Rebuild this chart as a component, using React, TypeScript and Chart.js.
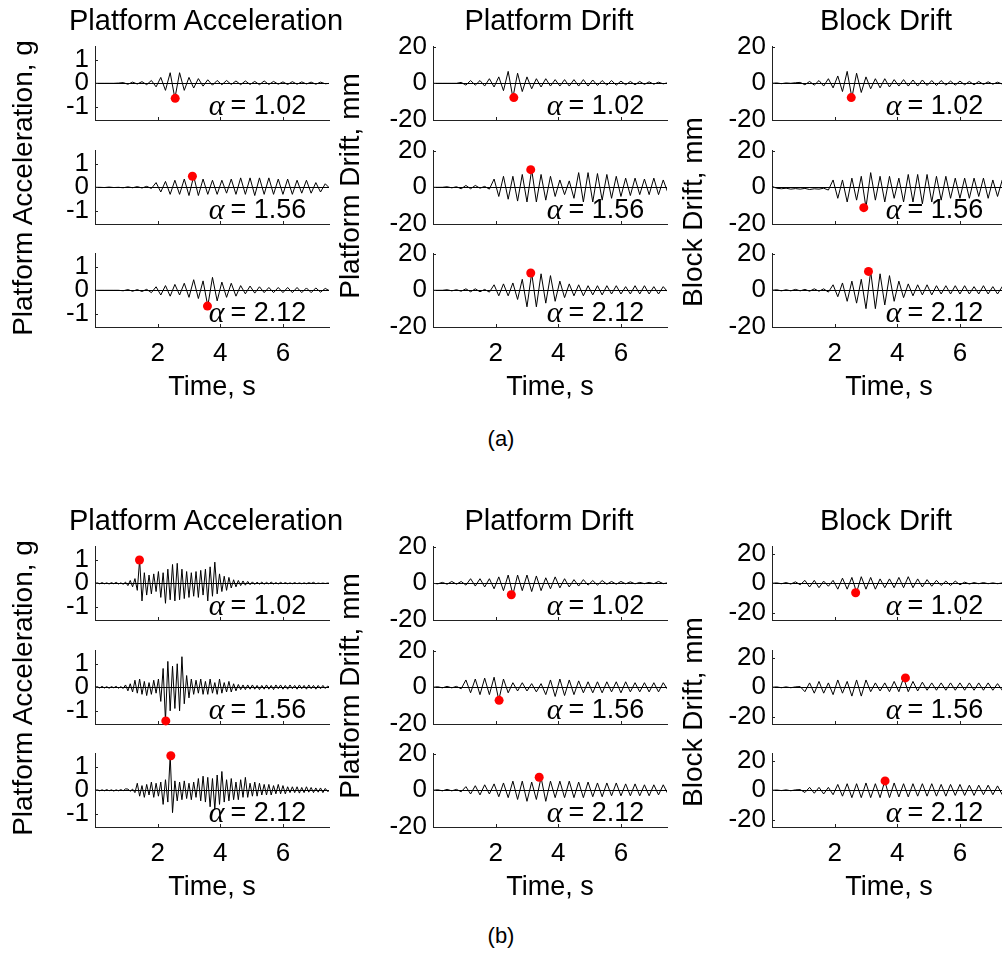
import React, { useEffect, useRef } from 'react';
import { Chart, registerables } from 'chart.js';
Chart.register(...registerables);

// ---------- time bases (s) ----------
const tCoarse = [
  0, 0.15, 0.3, 0.45, 0.6, 0.75, 0.9, 1.05, 1.2, 1.35,
  1.5, 1.65, 1.8, 1.95, 2.1, 2.25, 2.4, 2.55, 2.7, 2.85,
  3, 3.15, 3.3, 3.45, 3.6, 3.75, 3.9, 4.05, 4.2, 4.35,
  4.5, 4.65, 4.8, 4.95, 5.1, 5.25, 5.4, 5.55, 5.7, 5.85,
  6, 6.15, 6.3, 6.45, 6.6, 6.75, 6.9, 7.05, 7.2, 7.35,
  7.5,
];
const tFine = [
  0, 0.075, 0.15, 0.225, 0.3, 0.375, 0.45, 0.525, 0.6, 0.675,
  0.75, 0.825, 0.9, 0.975, 1.05, 1.125, 1.2, 1.275, 1.35, 1.425,
  1.5, 1.575, 1.65, 1.725, 1.8, 1.875, 1.95, 2.025, 2.1, 2.175,
  2.25, 2.325, 2.4, 2.475, 2.55, 2.625, 2.7, 2.775, 2.85, 2.925,
  3, 3.075, 3.15, 3.225, 3.3, 3.375, 3.45, 3.525, 3.6, 3.675,
  3.75, 3.825, 3.9, 3.975, 4.05, 4.125, 4.2, 4.275, 4.35, 4.425,
  4.5, 4.575, 4.65, 4.725, 4.8, 4.875, 4.95, 5.025, 5.1, 5.175,
  5.25, 5.325, 5.4, 5.475, 5.55, 5.625, 5.7, 5.775, 5.85, 5.925,
  6, 6.075, 6.15, 6.225, 6.3, 6.375, 6.45, 6.525, 6.6, 6.675,
  6.75, 6.825, 6.9, 6.975, 7.05, 7.125, 7.2, 7.275, 7.35, 7.425,
  7.5,
];

// ---------- axes ----------
const xMax = 7.47;
const xTicks = [2, 4, 6];
const accLim = 1.56;
const accTicks = [-1, 0, 1];
const driftLim = 20;
const driftTicks = [-20, 0, 20];
const blockLimB = 25;
const alphaLabels = ['1.02', '1.56', '2.12'];

// ---------- (a) Platform acceleration, g ----------
const aAcc1 = [
  0, 0, 0, 0, 0, 0.01, 0.03, -0.04, 0.05, -0.03,
  0.07, -0.06, 0.12, -0.15, 0.25, -0.3, 0.45, -0.64, 0.45, -0.3,
  0.25, -0.2, 0.2, -0.12, 0.15, -0.08, 0.12, -0.06, 0.12, -0.05,
  0.1, -0.06, 0.1, -0.05, 0.08, -0.06, 0.1, -0.05, 0.08, -0.04,
  0.06, -0.05, 0.07, -0.04, 0.06, -0.03, 0.05, -0.04, 0.05, -0.02,
  0,
];
const aAcc2 = [
  0, 0, -0.01, 0.01, -0.01, 0, -0.02, 0.02, -0.02, 0.03,
  -0.03, 0.04, -0.05, 0.2, -0.2, 0.25, -0.3, 0.3, -0.3, 0.35,
  -0.35, 0.47, -0.35, 0.35, -0.3, 0.3, -0.3, 0.3, -0.25, 0.35,
  -0.3, 0.4, -0.3, 0.4, -0.35, 0.4, -0.3, 0.4, -0.3, 0.35,
  -0.3, 0.35, -0.3, 0.3, -0.25, 0.3, -0.25, 0.2, -0.2, 0.15,
  -0.05,
];
const aAcc3 = [
  0, 0, 0, 0, 0, 0, -0.02, 0.03, -0.04, 0.03,
  -0.05, 0.04, -0.1, 0.15, -0.2, 0.2, -0.25, 0.25, -0.2, 0.3,
  -0.3, 0.45, -0.35, 0.4, -0.67, 0.55, -0.45, 0.35, -0.3, 0.3,
  -0.25, 0.2, -0.15, 0.18, -0.12, 0.15, -0.1, 0.12, -0.1, 0.12,
  -0.1, 0.12, -0.1, 0.12, -0.1, 0.1, -0.1, 0.1, -0.08, 0.08,
  -0.03,
];
// ---------- (a) Platform drift, mm ----------
const aPD1 = [
  0, 0, 0, 0, 0, 0, 0.5, -1, 1.5, -1,
  1.5, -1.5, 2.5, -2, 3.5, -4, 6.5, -7.8, 5.5, -4.5,
  3.5, -3, 2.5, -2, 2.5, -1.5, 2, -1.5, 2, -1.5,
  2, -1.5, 2, -1.5, 1.8, -1.2, 1.5, -1, 1.5, -1,
  1.2, -0.8, 1, -0.8, 1, -0.6, 0.8, -0.5, 0.6, -0.3,
  0.3,
];
const aPD2 = [
  0, 0, 0, 0.3, -0.3, 0.3, -0.8, 1, -0.8, 1,
  -0.5, 0.5, -1, 4.5, -5, 6, -6.5, 6, -7.5, 7,
  -8, 9.6, -8, 7, -7, 6, -5, 4, -4, 3.5,
  -6, 8, -8, 8, -8, 7.5, -7, 7, -6, 6,
  -5, 5, -4.5, 5, -4, 4.5, -4, 5, -4, 4,
  -3,
];
const aPD3 = [
  0, 0, 0, 0.3, -0.3, 0.3, -0.5, 0.8, -0.8, 0.8,
  -0.8, 0.5, -1, 3, -3, 3.5, -3, 4, -5, 6,
  -9, 9.4, -9, 9, -7, 8, -6, 5, -4, 3.5,
  -3, 3, -3, 2.5, -2.5, 2.5, -2.5, 2.5, -2, 2.5,
  -2, 2, -2, 2.5, -2, 2.5, -2, 2, -2, 2,
  -1,
];
// ---------- (a) Block drift, mm ----------
const aBD1 = [
  0, 0.2, -0.2, 0.2, 0, 0.3, 0.5, -0.8, 1, -1,
  1.5, -1.5, 2.5, -2.5, 4, -4.5, 6.5, -7.8, 5.5, -5,
  3.5, -3, 2.5, -2.5, 2.5, -2, 2, -1.5, 2, -1.5,
  1.8, -1.5, 1.8, -1.2, 1.5, -1.2, 1.5, -1, 1.2, -1,
  1.2, -0.8, 1, -0.8, 1, -0.6, 0.8, -0.5, 0.6, -0.4,
  0.3,
];
const aBD2 = [
  0.5, -0.5, -0.8, -0.5, -1, -0.7, -1, -0.6, -1.2, -0.8,
  -1, -0.5, -1.5, 4, -6, 4, -8, 5, -7, 6,
  -11, 8, -7, 6, -8, 6, -6, 5, -8, 7,
  -8, 7, -9, 7, -8, 6, -7, 6, -6, 5,
  -6, 5, -6, 5, -5, 5, -6, 4, -5, 4,
  -3,
];
const aBD3 = [
  0, 0.3, -0.3, 0.3, -0.3, 0.5, -0.3, 0.5, -0.5, 0.8,
  -0.5, 0.8, -1, 3, -3.5, 4, -6, 5, -7, 6,
  -10, 10.3, -10, 9, -8, 8, -6, 5, -4, 3.5,
  -3, 3, -2.5, 3, -2.5, 2.5, -2, 2.5, -2, 2.5,
  -2, 2.5, -2, 2, -2, 2.5, -2, 2, -2, 2,
  -1,
];
// ---------- (b) Platform acceleration, g ----------
const bAcc1 = [
  0, 0.02, -0.02, 0.03, -0.02, 0.02, -0.03, 0.03, -0.02, 0.04,
  -0.03, 0.02, -0.04, 0.05, -0.1, 0.12, -0.15, 0.2, -0.3, 1.0,
  -0.75, 0.45, -0.5, 0.35, -0.45, 0.4, -0.35, 0.5, -0.6, 0.45,
  -0.85, 0.6, -0.7, 0.8, -0.75, 0.85, -0.7, 0.6, -0.65, 0.5,
  -0.6, 0.45, -0.55, 0.5, -0.6, 0.55, -0.5, 0.6, -0.75, 0.7,
  -0.55, 0.9, -0.45, 0.4, -0.35, 0.3, -0.3, 0.25, -0.2, 0.15,
  -0.15, 0.12, -0.1, 0.1, -0.08, 0.08, -0.06, 0.06, -0.05, 0.05,
  -0.04, 0.05, -0.04, 0.04, -0.03, 0.05, -0.03, 0.03, -0.03, 0.04,
  -0.02, 0.03, -0.02, 0.02, -0.02, 0.03, -0.02, 0.02, -0.02, 0.02,
  -0.02, 0.03, -0.01, 0.04, -0.02, 0.01, -0.01, 0.01, -0.01, 0.01,
  0,
];
const bAcc2 = [
  0, 0.03, -0.03, 0.04, -0.03, 0.03, -0.04, 0.03, -0.02, 0.04,
  -0.04, 0.03, -0.05, 0.1, -0.15, 0.15, -0.2, 0.3, -0.25, 0.35,
  -0.3, 0.25, -0.35, 0.2, -0.3, 0.3, -0.25, 0.35, -0.6, 0.8,
  -1.43, 1.1, -1.0, 0.9, -0.9, 1.0, -1.0, 1.3, -0.7, 0.5,
  -0.45, 0.35, -0.3, 0.3, -0.25, 0.35, -0.3, 0.25, -0.3, 0.35,
  -0.25, 0.2, -0.3, 0.35, -0.25, 0.2, -0.2, 0.25, -0.2, 0.15,
  -0.15, 0.12, -0.1, 0.1, -0.1, 0.1, -0.08, 0.1, -0.08, 0.08,
  -0.1, 0.08, -0.08, 0.1, -0.08, 0.08, -0.1, 0.1, -0.06, 0.1,
  -0.08, 0.08, -0.08, 0.1, -0.06, 0.08, -0.08, 0.1, -0.06, 0.08,
  -0.08, 0.1, -0.06, 0.08, -0.08, 0.08, -0.06, 0.08, -0.05, 0.05,
  0,
];
const bAcc3 = [
  0, 0.02, -0.02, 0.02, -0.02, 0.03, -0.02, 0.02, -0.03, 0.02,
  -0.02, 0.03, -0.02, 0.06, 0.05, -0.04, 0.05, -0.1, 0.3, -0.25,
  0.2, -0.3, 0.25, -0.2, 0.35, -0.3, 0.3, -0.25, 0.35, -0.6,
  0.45, -0.5, 1.47, -0.95, 0.4, -0.45, 0.35, -0.4, 0.4, -0.35,
  0.3, -0.4, 0.35, -0.3, 0.5, -0.45, 0.6, -0.5, 0.55, -0.7,
  0.5, -0.8, 0.65, -0.6, 0.8, -0.5, 0.45, -0.45, 0.5, -0.4,
  0.35, -0.4, 0.45, -0.3, 0.55, -0.3, 0.3, -0.25, 0.35, -0.25,
  0.3, -0.2, 0.25, -0.2, 0.25, -0.2, 0.2, -0.15, 0.25, -0.15,
  0.2, -0.15, 0.15, -0.1, 0.15, -0.1, 0.15, -0.12, 0.12, -0.1,
  0.15, -0.08, 0.12, -0.1, 0.1, -0.08, 0.1, -0.1, 0.08, -0.05,
  0,
];
// ---------- (b) Platform drift, mm ----------
const bPD1 = [
  0, -0.3, 0.5, -0.5, 1, -0.5, 1, -1, 2.5, -1.5,
  2.5, -2, 2.5, -3, 3.5, -4, 4.5, -6.2, 4.5, -4,
  4.5, -4.5, 4, -4, 3, -3, 3.5, -2.5, 2.5, -2,
  2, -1.5, 2, -1, 1.5, -1, 1.5, -0.5, 1, -0.5,
  1, -0.3, 0.8, -0.3, 0.5, -0.2, 0.5, -0.2, 1, -0.2,
  0.3,
];
const bPD2 = [
  0, 0.3, -0.3, 0.5, -0.3, 0.5, -0.8, 4, -3, 4.5,
  -4, 5, -4, 5.5, -7, 4.5, -3, 2.5, -2, 2.5,
  -2, 2, -2.5, 2, -4, 4, -5, 4.5, -4.5, 4,
  -4, 3.5, -3, 3, -3, 3, -3, 3, -2.5, 3,
  -3, 3, -2.5, 2.5, -2.5, 2.5, -2.5, 2.5, -2.5, 2.5,
  -1.5,
];
const bPD3 = [
  0, 0.3, -0.3, 0.5, -0.3, 0.5, -0.8, 2, -2, 2.5,
  -2.5, 3, -2, 3.5, -3.5, 4, -4, 5, -5, 5,
  -6, 4.5, -5, 7, -6, 5, -4, 5, -4, 5,
  -4, 4.5, -4, 4.5, -3.5, 4, -3.5, 4, -3, 4,
  -3, 3.5, -3, 3.5, -3, 3, -3, 3, -2.5, 3,
  -2,
];
// ---------- (b) Block drift, mm ----------
const bBD1 = [
  0, 0.3, -0.3, 0.5, -0.5, 1, -1, 2, -2.5, 2,
  -3, 1.5, -2, 2, -4, 3.5, -4, 4, -6.2, 4.5,
  -4, 4, -4, 3, -3, 3, -3, 4, -3, 4.5,
  -3, 3, -2.5, 2.5, -2, 2, -1.5, 1.5, -1.5, 1.5,
  -1, 0.8, -0.5, 0.5, -0.3, 0.5, -0.3, 0.3, -0.3, 0.3,
  0,
];
const bBD2 = [
  0, 0.3, -0.3, 0.3, -0.3, 0.3, 0.5, -3, 3, -4,
  4, -4, 3, -5, 5, -4, 4, -6, 5, -6,
  5, -3, 3, -2.5, 3, -3, 4, -3, 6.4, -3,
  4, -2.5, 3.5, -2, 3, -2, 3, -2, 3, -2,
  3, -2, 3, -2, 3, -2, 3, -2, 2.5, -2,
  2,
];
const bBD3 = [
  0, 0.2, -0.2, 0.3, -0.3, 0.3, 0.5, -1.5, 2, -2,
  2, -2.5, 2, -3, 4, -4, 4.5, -5, 4.5, -5,
  5, -5, 4.5, -5, 6.4, -5, 5, -4.5, 4.5, -4.5,
  4.5, -4, 4.5, -4, 4.5, -4, 4, -4, 4, -3.5,
  4, -3.5, 3.5, -3.5, 3.5, -3, 3.5, -3, 3, -3,
  2,
];

// ---------- peak markers (red dots) ----------
const aAccPeakT = [2.56, 3.11, 3.59];
const aAccPeakV = [-0.64, 0.47, -0.67];
const aPDPeakT = [2.58, 3.12, 3.12];
const aPDPeakV = [-7.8, 9.6, 9.4];
const aBDPeakT = [2.53, 2.93, 3.08];
const aBDPeakV = [-7.8, -11.1, 10.3];
const bAccPeakT = [1.42, 2.26, 2.42];
const bAccPeakV = [0.99, -1.43, 1.47];
const bPDPeakT = [2.5, 2.11, 3.39];
const bPDPeakV = [-6.25, -7.1, 7.1];
const bBDPeakT = [2.67, 4.26, 3.61];
const bBDPeakV = [-6.4, 6.4, 6.4];

// ---------- styling / layout ----------
const SANS = "'Liberation Sans', Arial, Helvetica, sans-serif";
const SERIF = "'Liberation Serif', 'Times New Roman', serif";
const COL_LEFT = [95, 433, 772];
const PLOT_W = 234;
const ROW_TOP = [43, 147, 250];
const PLOT_H = 77;
const GROUP_DY = 500;
const AXIS_W = 70;
const PAD_TOP = 18;
const PAD_RIGHT = 10;
const X_AXIS_H = 45;
const ALPHA_X = 3.63;
const ALPHA_YFRAC = 0.64;
const TICK_SIZE = 26;

type Spec = {
  key: string;
  left: number;
  top: number;
  time: number[];
  values: number[];
  lim: number;
  yTicks: number[];
  peakT: number;
  peakV: number;
  alpha: string;
  showX: boolean;
};

function buildSpecs(): Spec[] {
  const groups = [
    {
      dy: 0,
      cols: [
        { time: tCoarse, series: [aAcc1, aAcc2, aAcc3], lim: accLim, ticks: accTicks, pT: aAccPeakT, pV: aAccPeakV },
        { time: tCoarse, series: [aPD1, aPD2, aPD3], lim: driftLim, ticks: driftTicks, pT: aPDPeakT, pV: aPDPeakV },
        { time: tCoarse, series: [aBD1, aBD2, aBD3], lim: driftLim, ticks: driftTicks, pT: aBDPeakT, pV: aBDPeakV },
      ],
    },
    {
      dy: GROUP_DY,
      cols: [
        { time: tFine, series: [bAcc1, bAcc2, bAcc3], lim: accLim, ticks: accTicks, pT: bAccPeakT, pV: bAccPeakV },
        { time: tCoarse, series: [bPD1, bPD2, bPD3], lim: driftLim, ticks: driftTicks, pT: bPDPeakT, pV: bPDPeakV },
        { time: tCoarse, series: [bBD1, bBD2, bBD3], lim: blockLimB, ticks: driftTicks, pT: bBDPeakT, pV: bBDPeakV },
      ],
    },
  ];
  const out: Spec[] = [];
  groups.forEach((g, gi) => {
    g.cols.forEach((c, ci) => {
      c.series.forEach((s, ri) => {
        out.push({
          key: `${gi}-${ci}-${ri}`,
          left: COL_LEFT[ci],
          top: ROW_TOP[ri] + g.dy,
          time: c.time,
          values: s,
          lim: c.lim,
          yTicks: c.ticks,
          peakT: c.pT[ri],
          peakV: c.pV[ri],
          alpha: alphaLabels[ri],
          showX: ri === 2,
        });
      });
    });
  });
  return out;
}

function makeDecor(spec: Spec) {
  return {
    id: 'decor',
    beforeDatasetsDraw(chart: any) {
      const { ctx, chartArea } = chart;
      const y = chart.scales.y;
      const y0 = Math.round(y.getPixelForValue(0)) + 0.5;
      ctx.save();
      ctx.strokeStyle = '#000';
      ctx.lineWidth = 1;
      ctx.beginPath();
      ctx.moveTo(chartArea.left, y0);
      ctx.lineTo(chartArea.right, y0);
      ctx.stroke();
      ctx.restore();
    },
    afterDatasetsDraw(chart: any) {
      const { ctx, chartArea } = chart;
      const x = chart.scales.x;
      const y = chart.scales.y;
      ctx.save();
      ctx.strokeStyle = '#222';
      ctx.lineWidth = 1;
      ctx.beginPath();
      for (const v of xTicks) {
        const px = Math.round(x.getPixelForValue(v)) + 0.5;
        ctx.moveTo(px, chartArea.bottom);
        ctx.lineTo(px, chartArea.bottom - 3);
      }
      for (const v of spec.yTicks) {
        const py = Math.round(y.getPixelForValue(v)) + 0.5;
        ctx.moveTo(chartArea.left, py);
        ctx.lineTo(chartArea.left + 3, py);
      }
      ctx.stroke();
      const lx = x.getPixelForValue(ALPHA_X);
      const ly = y.getPixelForValue(-ALPHA_YFRAC * spec.lim);
      ctx.fillStyle = '#000';
      ctx.textBaseline = 'middle';
      ctx.textAlign = 'left';
      ctx.font = `italic 30px ${SERIF}`;
      ctx.fillText('\u03b1', lx, ly);
      const wa = ctx.measureText('\u03b1').width;
      ctx.font = `27px ${SANS}`;
      ctx.fillText('= ' + spec.alpha, lx + wa + 6, ly);
      ctx.restore();
    },
  };
}

function Subplot({ spec }: { spec: Spec }) {
  const ref = useRef<HTMLCanvasElement>(null);
  const w = AXIS_W + PLOT_W + PAD_RIGHT;
  const h = PAD_TOP + PLOT_H + X_AXIS_H;
  useEffect(() => {
    if (!ref.current) return;
    const tickFont = { family: SANS, size: TICK_SIZE };
    const chart = new Chart(ref.current, {
      type: 'line',
      data: {
        labels: spec.time,
        datasets: [
          {
            type: 'scatter',
            data: [{ x: spec.peakT, y: spec.peakV }],
            pointRadius: 4.5,
            pointBackgroundColor: '#ff0000',
            pointBorderWidth: 0,
            backgroundColor: '#ff0000',
            borderColor: '#ff0000',
            clip: false,
            order: 0,
          } as any,
          {
            type: 'line',
            data: spec.values,
            borderColor: '#000',
            borderWidth: 1,
            pointRadius: 0,
            tension: 0,
            fill: false,
            order: 1,
          } as any,
        ],
      },
      options: {
        animation: false,
        responsive: false,
        maintainAspectRatio: false,
        devicePixelRatio: 1,
        events: [],
        layout: { padding: { top: PAD_TOP, right: PAD_RIGHT, left: 0, bottom: 0 } },
        plugins: { legend: { display: false }, tooltip: { enabled: false } },
        scales: {
          x: {
            type: 'linear',
            min: 0,
            max: xMax,
            afterFit: (s: any) => { s.height = X_AXIS_H; },
            afterBuildTicks: (s: any) => { s.ticks = xTicks.map((v) => ({ value: v })); },
            grid: { display: false, drawTicks: false },
            border: { display: true, color: '#222', width: 1 },
            ticks: { display: spec.showX, color: '#000', font: tickFont, padding: 11, maxRotation: 0, autoSkip: false },
          },
          y: {
            type: 'linear',
            min: -spec.lim,
            max: spec.lim,
            afterFit: (s: any) => { s.width = AXIS_W; },
            afterBuildTicks: (s: any) => { s.ticks = spec.yTicks.map((v) => ({ value: v })); },
            grid: { display: false, drawTicks: false },
            border: { display: true, color: '#222', width: 1 },
            ticks: { color: '#000', font: tickFont, padding: 6, autoSkip: false },
          },
        },
      } as any,
      plugins: [makeDecor(spec)],
    });
    return () => chart.destroy();
  }, []);
  return (
    <canvas
      ref={ref}
      width={w}
      height={h}
      style={{ position: 'absolute', left: spec.left - AXIS_W, top: spec.top - PAD_TOP, width: w, height: h }}
    />
  );
}

function Text({ x, y, size, text, rotate }: { x: number; y: number; size: number; text: string; rotate?: boolean }) {
  const base: React.CSSProperties = {
    position: 'absolute',
    fontFamily: SANS,
    fontSize: size,
    lineHeight: `${size}px`,
    whiteSpace: 'nowrap',
    color: '#000',
  };
  if (rotate) {
    return <div style={{ ...base, left: x, top: y, transform: 'translate(-50%, -50%) rotate(-90deg)' }}>{text}</div>;
  }
  return <div style={{ ...base, left: x, top: y - 0.8465 * size, transform: 'translateX(-50%)' }}>{text}</div>;
}

const titles = ['Platform Acceleration', 'Platform Drift', 'Block Drift'];
const yLabels = ['Platform Acceleration, g', 'Platform Drift, mm', 'Block Drift, mm'];
const TITLE_X = [206, 549, 886];
const YLABEL_X = [23, 350, 693];
const YLABEL_Y = [188, 186, 212];
const TIME_X = [212, 550, 889];

export default function App() {
  const specs = buildSpecs();
  return (
    <div style={{ position: 'absolute', left: 0, top: 0, width: 1002, height: 954, overflow: 'hidden', background: '#fff' }}>
      {specs.map((s) => (
        <Subplot key={s.key} spec={s} />
      ))}
      {[0, GROUP_DY].map((dy, gi) => (
        <React.Fragment key={gi}>
          {titles.map((t, i) => (
            <Text key={'t' + i} x={TITLE_X[i]} y={31 + dy} size={29} text={t} />
          ))}
          {yLabels.map((t, i) => (
            <Text key={'y' + i} x={YLABEL_X[i]} y={YLABEL_Y[i] + dy} size={28} text={t} rotate />
          ))}
          {TIME_X.map((x, i) => (
            <Text key={'x' + i} x={x} y={396 + dy} size={27} text="Time, s" />
          ))}
          <Text x={501} y={447 + dy - (gi ? 3 : 0)} size={22} text={gi ? '(b)' : '(a)'} />
        </React.Fragment>
      ))}
    </div>
  );
}
